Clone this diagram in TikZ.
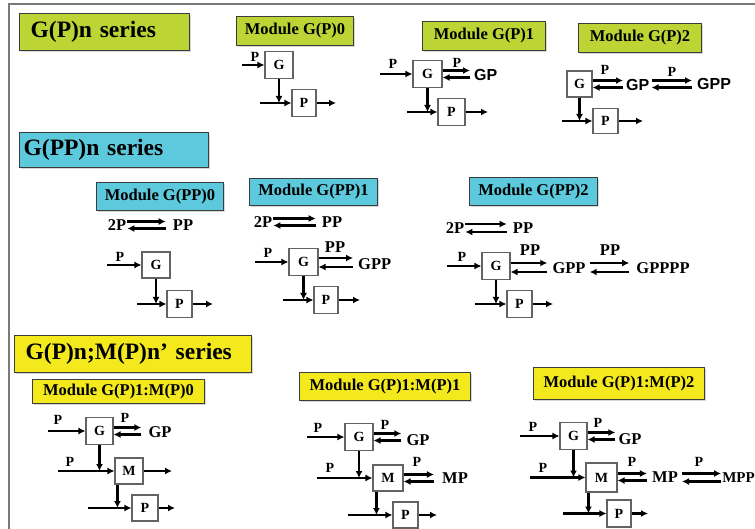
\documentclass[tikz,border=0pt]{standalone}
\usepackage{fontspec}
\setmainfont{Liberation Serif}
\newfontfamily\sansf{Liberation Sans}
\usetikzlibrary{arrows.meta,shadows}
\definecolor{grn}{HTML}{BCD534}
\definecolor{cyn}{HTML}{5CC9DC}
\definecolor{ylw}{HTML}{F3E91C}
\definecolor{frm}{HTML}{7A7A7A}
\definecolor{bdr}{HTML}{3C3C3C}
\begin{document}
\begin{tikzpicture}[x=1pt,y=-1pt,
  blk/.style={draw=bdr!80, line width=1.1pt, fill=white, minimum width=27pt, minimum height=27pt, inner sep=0pt, font=\fontsize{14}{14}\selectfont\bfseries},
  arr/.style={line width=2.3pt, -{Latex[length=7pt,width=7pt]}},
  lbl/.style={inner sep=0pt, font=\fontsize{14}{14}\selectfont\bfseries},
  spc/.style={inner sep=1pt, font=\fontsize{16.5}{16.5}\selectfont\bfseries},
  sns/.style={inner sep=1pt, font=\fontsize{16}{16}\sansf\bfseries},
  ttl/.style={draw=bdr, line width=1.3pt, anchor=north west, align=left, font=\fontsize{23.5}{23.5}\selectfont\bfseries, drop shadow={shadow xshift=1.5pt, shadow yshift=-1.5pt, opacity=0.3}},
  mod/.style={draw=bdr, line width=1pt, anchor=north west, inner sep=0pt, font=\fontsize{16.5}{16.5}\selectfont\bfseries, drop shadow={shadow xshift=1.2pt, shadow yshift=-1.2pt, opacity=0.3}}
]
\useasboundingbox (0,0) rectangle (755,529);
\fill[white] (0,0) rectangle (755,529);
\draw[frm, line width=2.2pt] (9,529) -- (9,4) -- (755,4);

% ================= Section 1 =================
\node[ttl, fill=grn, text width=148pt, inner xsep=11pt, minimum height=37pt] (t1) at (19,13) {G(P)n series};
\node[mod, fill=grn, minimum width=117pt, minimum height=29pt] (m0) at (236,16) {Module G(P)0};
\node[mod, fill=grn, minimum width=123pt, minimum height=29pt] (m1) at (422,21) {Module G(P)1};
\node[mod, fill=grn, minimum width=123pt, minimum height=29pt] (m2) at (578,23) {Module G(P)2};

% G(P)0
\node[blk, minimum width=28pt] (g0) at (279,65) {G};
\node[blk, minimum width=24pt] (p0) at (304,103) {P};
\coordinate (g0i) at (242,65);
\coordinate (p0i) at (260,103);
\coordinate (p0o) at (336,103);
\draw[arr] (g0i) -- (g0.west);
\node[lbl] (g0il) at (255,57) {P};
\draw[arr] (g0.south) -- (g0.south |- p0i);
\draw[arr] (p0i) -- (p0.west);
\draw[arr] (p0.east) -- (p0o);

% G(P)1
\node[blk, minimum width=29pt] (g1) at (427.5,74) {G};
\node[blk] (p1) at (451.5,112) {P};
\node[sns, anchor=west] (gp1) at (473,75) {GP};
\coordinate (g1i) at (380,74);
\coordinate (p1i) at (407,112);
\coordinate (p1o) at (488,112);
\draw[arr] (g1i) -- (g1.west);
\node[lbl] (g1il) at (393,64) {P};
\draw[arr, shorten >=3pt] ([yshift=3.5pt]g1.east) -- ([yshift=3.5pt]gp1.west |- g1.east);
\draw[arr, shorten <=3pt] ([yshift=-3.5pt]gp1.west |- g1.east) -- ([yshift=-3.5pt]g1.east);
\node[lbl] (g1rl) at (457,63) {P};
\draw[arr] (g1.south) -- (g1.south |- p1i);
\draw[arr] (p1i) -- (p1.west);
\draw[arr] (p1.east) -- (p1o);

% G(P)2
\node[blk, minimum width=25pt, minimum height=26pt] (g2) at (579.5,84) {G};
\node[blk, minimum width=25pt, minimum height=25pt] (p2) at (605.5,121) {P};
\node[sns, anchor=west] (gp2) at (625,85) {GP};
\node[sns, anchor=west] (gpp2) at (696,84) {GPP};
\coordinate (p2i) at (562,121);
\coordinate (p2o) at (643,121);
\draw[arr, shorten >=2pt] ([yshift=3.5pt]g2.east) -- ([yshift=3.5pt]gp2.west |- g2.east);
\draw[arr, shorten <=2pt] ([yshift=-3.5pt]gp2.west |- g2.east) -- ([yshift=-3.5pt]g2.east);
\node[lbl] (g2rl) at (605,70) {P};
\draw[arr, shorten <=1pt, shorten >=4pt] ([yshift=3.5pt]gp2.east |- g2.east) -- ([yshift=3.5pt]gpp2.west |- g2.east);
\draw[arr, shorten <=4pt, shorten >=1pt] ([yshift=-3.5pt]gpp2.west |- g2.east) -- ([yshift=-3.5pt]gp2.east |- g2.east);
\node[lbl] (g2sl) at (672,72) {P};
\draw[arr] (g2.south) -- (g2.south |- p2i);
\draw[arr] (p2i) -- (p2.west);
\draw[arr] (p2.east) -- (p2o);

% ================= Section 2 =================
\node[ttl, fill=cyn, text width=181pt, inner xsep=4pt, minimum height=35pt] (t2) at (19,132) {G(PP)n series};
\node[mod, fill=cyn, minimum width=127pt, minimum height=28pt] (m3) at (96,182) {Module G(PP)0};
\node[mod, fill=cyn, minimum width=128pt, minimum height=27pt] (m4) at (249,178) {Module G(PP)1};
\node[mod, fill=cyn, minimum width=128pt, minimum height=28pt] (m5) at (469,177) {Module G(PP)2};

% G(PP)0
\node[spc] (a3) at (117,225) {2P};
\node[spc] (b3) at (183,225) {PP};
\draw[arr, shorten >=6pt] ([yshift=3.5pt]a3.east) -- ([yshift=3.5pt]b3.west |- a3.east);
\draw[arr, shorten <=6pt] ([yshift=-3.5pt]b3.west |- a3.east) -- ([yshift=-3.5pt]a3.east);
\node[blk, minimum width=28pt, minimum height=26pt] (g3) at (156,265) {G};
\node[blk, minimum width=25pt] (p3) at (179.5,304) {P};
\coordinate (g3i) at (107,265);
\coordinate (p3i) at (137,304);
\coordinate (p3o) at (213,304);
\draw[arr] (g3i) -- (g3.west);
\node[lbl] (g3il) at (120,257) {P};
\draw[arr] (g3.south) -- (g3.south |- p3i);
\draw[arr] (p3i) -- (p3.west);
\draw[arr] (p3.east) -- (p3o);

% G(PP)1
\node[spc] (a4) at (263,222) {2P};
\node[spc] (b4) at (332,222) {PP};
\draw[arr, shorten >=5pt] ([yshift=3.5pt]a4.east) -- ([yshift=3.5pt]b4.west |- a4.east);
\draw[arr, shorten <=5pt] ([yshift=-3.5pt]b4.west |- a4.east) -- ([yshift=-3.5pt]a4.east);
\node[blk, minimum width=29pt] (g4) at (303.5,262) {G};
\node[blk, minimum width=24pt] (p4) at (326,300) {P};
\node[spc, anchor=west] (gpp4) at (357,264) {GPP};
\coordinate (g4i) at (255,262);
\coordinate (p4i) at (283,300);
\coordinate (p4o) at (360,300);
\draw[arr] (g4i) -- (g4.west);
\node[lbl] (g4il) at (268,253) {P};
\draw[arr, shorten >=4pt] ([yshift=4pt]g4.east) -- ([yshift=4pt]gpp4.west |- g4.east);
\draw[arr, shorten <=4pt] ([yshift=-5pt]gpp4.west |- g4.east) -- ([yshift=-5pt]g4.east);
\node[spc] (g4rl) at (335,247) {PP};
\draw[arr] (g4.south) -- (g4.south |- p4i);
\draw[arr] (p4i) -- (p4.west);
\draw[arr] (p4.east) -- (p4o);

% G(PP)2
\node[spc] (a5) at (455,228) {2P};
\node[spc] (b5) at (523,228) {PP};
\draw[arr, shorten >=5pt] ([yshift=4pt]a5.east) -- ([yshift=4pt]b5.west |- a5.east);
\draw[arr, shorten <=5pt] ([yshift=-4pt]b5.west |- a5.east) -- ([yshift=-4pt]a5.east);
\node[blk, minimum width=28pt] (g5) at (496,266) {G};
\node[blk, minimum width=25pt] (p5) at (519.5,304) {P};
\node[spc] (gpp5) at (569,268) {GPP};
\node[spc] (gpppp5) at (663,268) {GPPPP};
\coordinate (g5i) at (447,266);
\coordinate (p5i) at (475,304);
\coordinate (p5o) at (553,304);
\draw[arr] (g5i) -- (g5.west);
\node[lbl] (g5il) at (462,257) {P};
\draw[arr, shorten >=4pt] ([yshift=3pt]g5.east) -- ([yshift=3pt]gpp5.west |- g5.east);
\draw[arr, shorten <=4pt] ([yshift=-6pt]gpp5.west |- g5.east) -- ([yshift=-6pt]g5.east);
\node[spc] (g5rl) at (530,250) {PP};
\draw[arr, shorten <=3pt, shorten >=6pt] ([yshift=3pt]gpp5.east |- g5.east) -- ([yshift=3pt]gpppp5.west |- g5.east);
\draw[arr, shorten <=6pt, shorten >=3pt] ([yshift=-6pt]gpppp5.west |- g5.east) -- ([yshift=-6pt]gpp5.east |- g5.east);
\node[spc] (g5sl) at (610,250) {PP};
\draw[arr] (g5.south) -- (g5.south |- p5i);
\draw[arr] (p5i) -- (p5.west);
\draw[arr] (p5.east) -- (p5o);

% ================= Section 3 =================
\node[ttl, fill=ylw, text width=215pt, inner xsep=11pt, minimum height=37pt] (t3) at (14,335) {G(P)n;M(P)n' series};
\node[mod, fill=ylw, minimum width=172pt, minimum height=24pt] (m6) at (32,379) {Module G(P)1:M(P)0};
\node[mod, fill=ylw, minimum width=171pt, minimum height=28pt] (m7) at (299,372) {Module G(P)1:M(P)1};
\node[mod, fill=ylw, minimum width=171pt, minimum height=32pt] (m8) at (533,367) {Module G(P)1:M(P)2};

% G(P)1:M(P)0
\node[blk] (g6) at (99.5,431) {G};
\node[blk, minimum width=28pt, minimum height=26pt] (mm6) at (129,471) {M};
\node[blk, minimum width=26pt, minimum height=26pt] (p6) at (145,508) {P};
\node[spc] (gp6) at (160,432) {GP};
\coordinate (g6i) at (48,431);
\coordinate (mm6i) at (58,471);
\coordinate (mm6o) at (172,471);
\coordinate (p6i) at (88,508);
\coordinate (p6o) at (175,508);
\draw[arr] (g6i) -- (g6.west);
\node[lbl] (g6il) at (58,420) {P};
\draw[arr, shorten >=6pt] ([yshift=3.5pt]g6.east) -- ([yshift=3.5pt]gp6.west |- g6.east);
\draw[arr, shorten <=6pt] ([yshift=-3.5pt]gp6.west |- g6.east) -- ([yshift=-3.5pt]g6.east);
\node[lbl] (g6rl) at (125,418) {P};
\draw[arr] (g6.south) -- (g6.south |- mm6i);
\draw[arr] (mm6i) -- (mm6.west);
\node[lbl] (mm6il) at (70,462) {P};
\draw[arr] (mm6.east) -- (mm6o);
\draw[arr] ([xshift=3pt]mm6.south west) -- ([xshift=3pt]mm6.south west |- p6i);
\draw[arr] (p6i) -- (p6.west);
\draw[arr] (p6.east) -- (p6o);

% G(P)1:M(P)1
\node[blk, minimum width=28pt] (g7) at (359,437) {G};
\node[blk, minimum width=30pt, minimum height=26pt] (mm7) at (388,478) {M};
\node[blk, minimum width=25pt, minimum height=26pt] (p7) at (405.5,515) {P};
\node[spc] (gp7) at (418,440) {GP};
\node[spc] (mp7) at (455,478) {MP};
\coordinate (g7i) at (307,437);
\coordinate (mm7i) at (317,478);
\coordinate (p7i) at (348,515);
\coordinate (p7o) at (437,515);
\draw[arr] (g7i) -- (g7.west);
\node[lbl] (g7il) at (318,428) {P};
\draw[arr, shorten >=4pt] ([yshift=3.5pt]g7.east) -- ([yshift=3.5pt]gp7.west |- g7.east);
\draw[arr, shorten <=4pt] ([yshift=-3.5pt]gp7.west |- g7.east) -- ([yshift=-3.5pt]g7.east);
\node[lbl] (g7rl) at (385,425) {P};
\draw[arr] (g7.south) -- (g7.south |- mm7i);
\draw[arr] (mm7i) -- (mm7.west);
\node[lbl] (mm7il) at (330,468) {P};
\draw[arr, shorten >=7pt] ([yshift=3.5pt]mm7.east) -- ([yshift=3.5pt]mp7.west |- mm7.east);
\draw[arr, shorten <=7pt] ([yshift=-3.5pt]mp7.west |- mm7.east) -- ([yshift=-3.5pt]mm7.east);
\node[lbl] (mm7rl) at (417,462) {P};
\draw[arr] ([xshift=4pt]mm7.south west) -- ([xshift=4pt]mm7.south west |- p7i);
\draw[arr] (p7i) -- (p7.west);
\draw[arr] (p7.east) -- (p7o);

% G(P)1:M(P)2
\node[blk] (g8) at (573.5,436) {G};
\node[blk, minimum width=31pt, minimum height=29pt] (mm8) at (601.5,477.5) {M};
\node[blk, minimum width=24pt] (p8) at (619,513.5) {P};
\node[spc] (gp8) at (630,439) {GP};
\node[spc] (mp8) at (665,477.5) {MP};
\node[inner sep=0pt, font=\fontsize{15}{15}\selectfont\bfseries, anchor=east] (mpp8) at (755,477.5) {MPP};
\coordinate (g8i) at (520,436);
\coordinate (mm8i) at (530,477.5);
\coordinate (p8i) at (563,513.5);
\coordinate (p8o) at (648,513.5);
\draw[arr] (g8i) -- (g8.west);
\node[lbl] (g8il) at (533,427) {P};
\draw[arr, shorten >=2pt] ([yshift=3.5pt]g8.east) -- ([yshift=3.5pt]gp8.west |- g8.east);
\draw[arr, shorten <=2pt] ([yshift=-3.5pt]gp8.west |- g8.east) -- ([yshift=-3.5pt]g8.east);
\node[lbl] (g8rl) at (598,423) {P};
\draw[arr] (g8.south) -- (g8.south |- mm8i);
\draw[arr] (mm8i) -- (mm8.west);
\node[lbl] (mm8il) at (543,468) {P};
\draw[arr, shorten >=4pt] ([yshift=4pt]mm8.east) -- ([yshift=4pt]mp8.west |- mm8.east);
\draw[arr, shorten <=4pt] ([yshift=-3pt]mp8.west |- mm8.east) -- ([yshift=-3pt]mm8.east);
\node[lbl] (mm8rl) at (632,462) {P};
\draw[arr, shorten <=3pt, shorten >=1pt] ([yshift=4pt]mp8.east) -- ([yshift=4pt]mpp8.west |- mp8.east);
\draw[arr, shorten <=1pt, shorten >=3pt] ([yshift=-4pt]mpp8.west |- mp8.east) -- ([yshift=-4pt]mp8.east);
\node[lbl] (mp8rl) at (699,462) {P};
\draw[arr] ([xshift=3pt]mm8.south west) -- ([xshift=3pt]mm8.south west |- p8i);
\draw[arr] (p8i) -- (p8.west);
\draw[arr] (p8.east) -- (p8o);
\end{tikzpicture}
\end{document}
